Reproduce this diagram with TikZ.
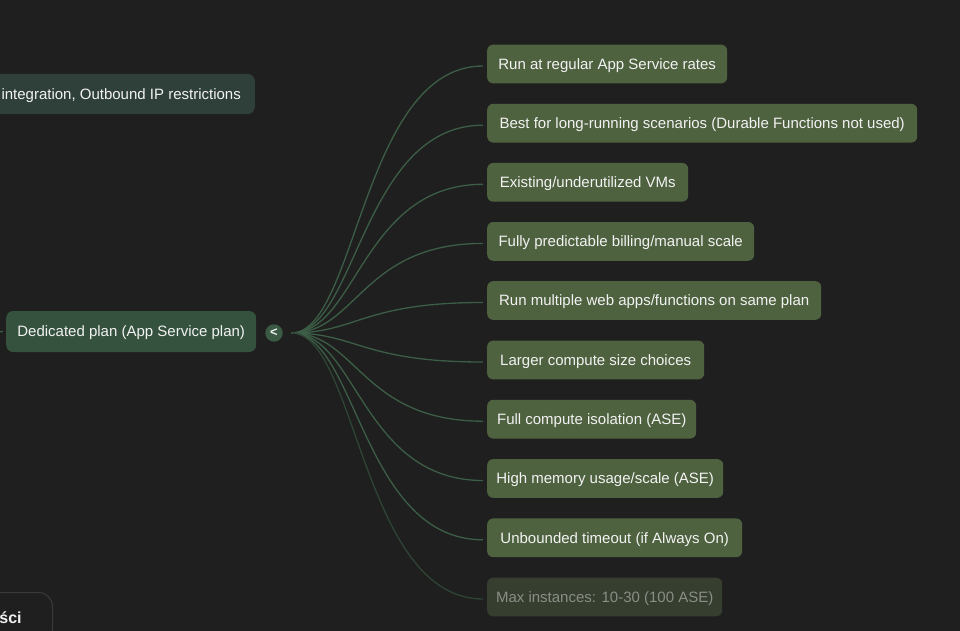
\documentclass[tikz,border=0pt]{standalone}
\usepackage{fontspec}
\setmainfont{Liberation Sans}
\definecolor{bg}{HTML}{1F1F1F}
\definecolor{leaffill}{HTML}{4F6240}
\definecolor{rootfill}{HTML}{34523E}
\definecolor{otherfill}{HTML}{2F403A}
\definecolor{togglefill}{HTML}{3A5A44}
\definecolor{conncol}{HTML}{3C5E46}
\definecolor{txt}{HTML}{F2F2F2}
\definecolor{fadefill}{HTML}{363E30}
\definecolor{fadetxt}{HTML}{8A8E86}
\definecolor{fadeconn}{HTML}{2E4535}
\definecolor{ghostline}{HTML}{3A3A3A}
\begin{document}
\begin{tikzpicture}[x=1pt,y=-1pt,
  basebox/.style={rounded corners=6pt, inner xsep=4pt, inner ysep=0pt,
    text height=13.5pt, text depth=3pt,
    minimum height=38.7pt, text=txt, font=\fontsize{15}{18}\selectfont},
  leaf/.style={basebox, fill=leaffill, anchor=west},
  fadeleaf/.style={basebox, fill=fadefill, text=fadetxt, anchor=west},
  rootbox/.style={basebox, fill=rootfill, rounded corners=7pt, minimum height=41pt, anchor=west},
  otherbox/.style={basebox, fill=otherfill, rounded corners=7pt, minimum height=40pt, inner xsep=14pt, anchor=east},
  toggle/.style={circle, fill=togglefill, minimum size=17.5pt, inner sep=0pt, text=txt,
    font=\fontsize{13}{13}\selectfont\bfseries},
  conn/.style={draw=conncol, line width=1.3pt},
  fadeconnect/.style={draw=fadeconn, line width=1.3pt},
  ghost/.style={draw=ghostline, line width=1pt, rounded corners=14pt, text=txt,
    font=\fontsize{16}{18}\selectfont\bfseries, minimum width=84pt, minimum height=50pt, anchor=north east}
]
\useasboundingbox (0,0) rectangle (960,631);
\clip (0,0) rectangle (960,631);
\fill[bg] (0,0) rectangle (960,631);

% left side nodes
\node[otherbox] (p) at (255,94) {integration, Outbound IP restrictions};
\node[rootbox, minimum width=250pt] (d) at (6,331.5) {Dedicated plan (App Service plan)};
\node[toggle] (t) at (274,333) {<};
\coordinate (in) at (-10,332.5);
\draw[conn] (in) -- ([xshift=-3pt]d.west);
\node[ghost] (g) at (53,592) {ści};

% leaves
\node[leaf, minimum width=240pt] (n1) at (487,64) {Run at regular App Service rates};
\node[leaf, minimum width=430pt] (n2) at (487,123.2) {Best for long-running scenarios (Durable Functions not used)};
\node[leaf, minimum width=201pt] (n3) at (487,182.3) {Existing/underutilized VMs};
\node[leaf, minimum width=267pt] (n4) at (487,241.4) {Fully predictable billing/manual scale};
\node[leaf, minimum width=334pt] (n5) at (487,300.5) {Run multiple web apps/functions on same plan};
\node[leaf, minimum width=217pt] (n6) at (487,360) {Larger compute size choices};
\node[leaf, minimum width=209pt] (n7) at (487,419.2) {Full compute isolation (ASE)};
\node[leaf, minimum width=236pt] (n8) at (487,478.5) {High memory usage/scale (ASE)};
\node[leaf, minimum width=255pt] (n9) at (487,537.8) {Unbounded timeout (if Always On)};
\node[fadeleaf, minimum width=235pt] (n10) at (487,597) {Max instances: 10-30 (100 ASE)};

% connectors
\coordinate (o) at (291.5,333);
\foreach \n in {n1,n2,n3,n4,n5,n6,n7,n8,n9}{
  \draw[conn] (o) .. controls +(65,0) and +(-121,0) .. ([xshift=-4pt,yshift=-2pt]\n.west);
}
\draw[fadeconnect] (o) .. controls +(65,0) and +(-121,0) .. ([xshift=-4pt,yshift=-2pt]n10.west);
\end{tikzpicture}
\end{document}
